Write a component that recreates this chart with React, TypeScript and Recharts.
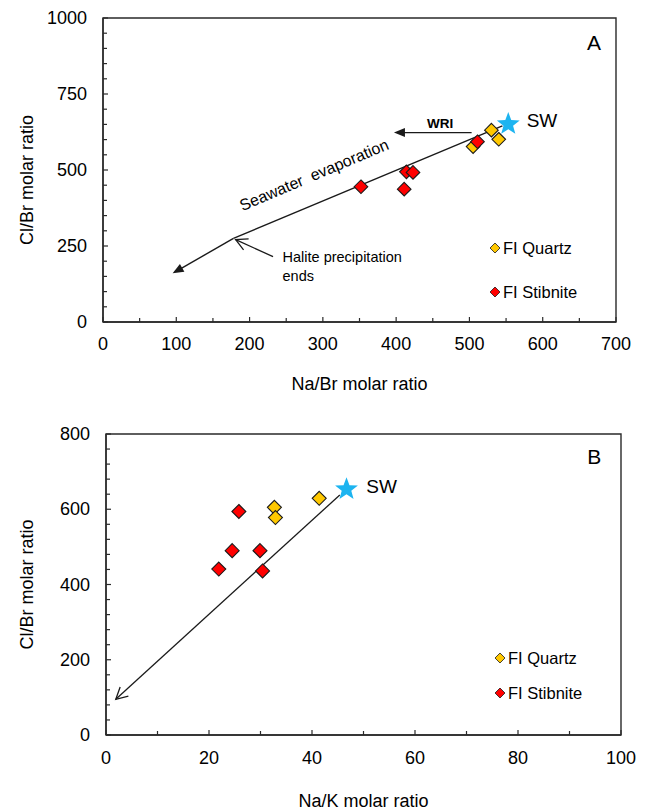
import React from 'react';
import {
  ScatterChart,
  Scatter,
  XAxis,
  YAxis,
  ReferenceLine,
  ReferenceArea,
  ReferenceDot,
  Legend,
} from 'recharts';

const FONT = '"Liberation Sans", Arial, Helvetica, sans-serif';
const AXIS = '#2a2a2a';
const QUARTZ = '#FFC800';
const STIB = '#FF0000';
const STAR = '#1DB4F0';

// ---------- Panel A: Cl/Br vs Na/Br ----------
const aQuartzNaBr = [530, 540, 505];
const aQuartzClBr = [631, 601, 577];
const aStibNaBr = [511, 414, 423, 352, 411];
const aStibClBr = [593, 494, 492, 445, 437];
const aSwNaBr = [553];
const aSwClBr = [651];

const aXMajor = [0, 100, 200, 300, 400, 500, 600, 700];
const aXMinor = [50, 150, 250, 350, 450, 550, 650];
const aYMajor = [0, 250, 500, 750, 1000];
const aYMinor = [50, 100, 150, 200, 300, 350, 400, 450, 550, 600, 650, 700, 800, 850, 900, 950];

const aEvapLine = [{ x: 545, y: 645 }, { x: 178, y: 275 }];
const aEvapArrow = [{ x: 178, y: 275 }, { x: 95, y: 160 }];
const aWriArrow = [{ x: 503, y: 623 }, { x: 397, y: 623 }];
const aHaliteArrow = [{ x: 232, y: 215 }, { x: 181, y: 271 }];

// ---------- Panel B: Cl/Br vs Na/K ----------
const bQuartzNaK = [32.7, 32.9, 41.4];
const bQuartzClBr = [605, 578, 629];
const bStibNaK = [25.8, 24.5, 29.9, 21.9, 30.4];
const bStibClBr = [594, 490, 490, 441, 436];
const bSwNaK = [46.7];
const bSwClBr = [653];

const bXMajor = [0, 20, 40, 60, 80, 100];
const bXMinor = [10, 30, 50, 70, 90];
const bYMajor = [0, 200, 400, 600, 800];
const bYMinor = [40, 80, 120, 160, 240, 280, 320, 360, 440, 480, 520, 560, 640, 680, 720, 760];

const bEvapArrow = [{ x: 45.4, y: 638 }, { x: 1.9, y: 95 }];

const legendNames = ['FI Quartz', 'FI Stibnite'];

const toPts = (xs: number[], ys: number[]) => xs.map((x, i) => ({ x, y: ys[i] }));
const sortNum = (a: number[], b: number[]) => [...a, ...b].sort((p, q) => p - q);

const makeXTick = (majors: number[], dy: number) => (props: any) => {
  const { x, y, payload } = props;
  const isMajor = majors.includes(payload.value);
  return (
    <g>
      <line x1={x} y1={y} x2={x} y2={y - (isMajor ? 5 : 4)} stroke={AXIS} strokeWidth={1.2} />
      {isMajor && (
        <text x={x} y={y + dy} textAnchor="middle" dominantBaseline="central" fontSize={18} fontFamily={FONT} fill="#000">
          {payload.value}
        </text>
      )}
    </g>
  );
};

const makeYTick = (majors: number[], dx: number) => (props: any) => {
  const { x, y, payload } = props;
  const isMajor = majors.includes(payload.value);
  return (
    <g>
      <line x1={x} y1={y} x2={x + (isMajor ? 5 : 4)} y2={y} stroke={AXIS} strokeWidth={1.2} />
      {isMajor && (
        <text x={x - dx} y={y} textAnchor="end" dominantBaseline="central" fontSize={18} fontFamily={FONT} fill="#000">
          {payload.value}
        </text>
      )}
    </g>
  );
};

const diamond = (fill: string, r: number) => (props: any) => {
  const { cx, cy } = props;
  if (cx == null || cy == null) return <g />;
  return (
    <polygon
      points={`${cx},${cy - r} ${cx + r},${cy} ${cx},${cy + r} ${cx - r},${cy}`}
      fill={fill}
      stroke="#1a1a1a"
      strokeWidth={1.1}
    />
  );
};

const star = (R: number) => (props: any) => {
  const { cx, cy } = props;
  if (cx == null || cy == null) return <g />;
  const pts: string[] = [];
  for (let i = 0; i < 10; i++) {
    const rad = i % 2 === 0 ? R : R * 0.42;
    const ang = -Math.PI / 2 + (i * Math.PI) / 5;
    pts.push(`${cx + rad * Math.cos(ang)},${cy + rad * Math.sin(ang)}`);
  }
  return <polygon points={pts.join(' ')} fill={STAR} stroke="none" />;
};

const arrowLine = (kind: 'none' | 'filled' | 'open') => (props: any) => {
  const { x1, y1, x2, y2 } = props;
  if ([x1, y1, x2, y2].some((v) => v == null || Number.isNaN(v))) return <g />;
  const dx = x2 - x1;
  const dy = y2 - y1;
  const len = Math.sqrt(dx * dx + dy * dy) || 1;
  const ux = dx / len;
  const uy = dy / len;
  const L = 11;
  const W = 4.5;
  if (kind === 'filled') {
    const bx = x2 - ux * L;
    const by = y2 - uy * L;
    return (
      <g>
        <line x1={x1} y1={y1} x2={bx + ux * 2} y2={by + uy * 2} stroke="#1a1a1a" strokeWidth={1.4} />
        <polygon
          points={`${x2},${y2} ${bx - uy * W},${by + ux * W} ${bx + uy * W},${by - ux * W}`}
          fill="#1a1a1a"
        />
      </g>
    );
  }
  if (kind === 'open') {
    const a = (28 * Math.PI) / 180;
    const c = Math.cos(a);
    const s = Math.sin(a);
    const r1x = -(ux * c - uy * s);
    const r1y = -(ux * s + uy * c);
    const r2x = -(ux * c + uy * s);
    const r2y = -(-ux * s + uy * c);
    return (
      <g>
        <line x1={x1} y1={y1} x2={x2} y2={y2} stroke="#1a1a1a" strokeWidth={1.3} />
        <polyline
          points={`${x2 + r1x * 13},${y2 + r1y * 13} ${x2},${y2} ${x2 + r2x * 13},${y2 + r2y * 13}`}
          fill="none"
          stroke="#1a1a1a"
          strokeWidth={1.3}
        />
      </g>
    );
  }
  return <line x1={x1} y1={y1} x2={x2} y2={y2} stroke="#1a1a1a" strokeWidth={1.4} />;
};

const textDot = (
  text: string,
  opts: { size: number; anchor?: string; weight?: string; rotate?: number }
) => (props: any) => {
  const { cx, cy } = props;
  if (cx == null || cy == null) return <g />;
  return (
    <text
      x={cx}
      y={cy}
      textAnchor={opts.anchor || 'middle'}
      dominantBaseline="central"
      fontSize={opts.size}
      fontWeight={opts.weight || 'normal'}
      fontFamily={FONT}
      fill="#000"
      style={{ whiteSpace: 'pre' }}
      transform={opts.rotate ? `rotate(${opts.rotate} ${cx} ${cy})` : undefined}
    >
      {text}
    </text>
  );
};

const xTitle = (text: string, dy: number) => (props: any) => {
  const vb = props.viewBox || {};
  return (
    <text
      x={vb.x + vb.width / 2}
      y={vb.y + dy}
      textAnchor="middle"
      dominantBaseline="central"
      fontSize={18}
      fontFamily={FONT}
      fill="#000"
    >
      {text}
    </text>
  );
};

const yTitle = (text: string, dxFromPlot: number, dyFromCenter: number) => (props: any) => {
  const vb = props.viewBox || {};
  const cx = vb.x + vb.width - dxFromPlot;
  const cy = vb.y + vb.height / 2 + dyFromCenter;
  return (
    <text
      x={cx}
      y={cy}
      textAnchor="middle"
      dominantBaseline="central"
      fontSize={18}
      fontFamily={FONT}
      fill="#000"
      transform={`rotate(-90 ${cx} ${cy})`}
    >
      {text}
    </text>
  );
};

const legendContent = (rowGap: number) => (props: any) => {
  const payload = (props.payload || []).filter((p: any) => legendNames.includes(p.value));
  const items = legendNames.map((n) => {
    const found = payload.find((p: any) => p.value === n);
    return { name: n, color: found ? found.color : n === 'FI Quartz' ? QUARTZ : STIB };
  });
  return (
    <div style={{ position: 'relative', width: 130, height: rowGap + 20 }}>
      {items.map((it, i) => (
        <div
          key={it.name}
          style={{
            position: 'absolute',
            left: 0,
            top: i * rowGap,
            height: 20,
            display: 'flex',
            alignItems: 'center',
            whiteSpace: 'nowrap',
          }}
        >
          <svg width={12} height={12} style={{ display: 'block' }}>
            <polygon points="6,1 11,6 6,11 1,6" fill={it.color} stroke="#1a1a1a" strokeWidth={0.8} />
          </svg>
          <span style={{ marginLeft: 2, fontFamily: FONT, fontSize: 16.5, color: '#000', lineHeight: '20px' }}>
            {it.name}
          </span>
        </div>
      ))}
    </div>
  );
};

const App = () => {
  const aQuartz = toPts(aQuartzNaBr, aQuartzClBr);
  const aStib = toPts(aStibNaBr, aStibClBr);
  const aSw = toPts(aSwNaBr, aSwClBr);
  const bQuartz = toPts(bQuartzNaK, bQuartzClBr);
  const bStib = toPts(bStibNaK, bStibClBr);
  const bSw = toPts(bSwNaK, bSwClBr);

  return (
    <div style={{ position: 'absolute', left: 0, top: 0, width: 646, height: 812, background: '#fff' }}>
      {/* Panel A */}
      <div style={{ position: 'absolute', left: 0, top: 0 }}>
        <ScatterChart width={646} height={400} margin={{ top: 18, right: 30, bottom: 38, left: 43 }}>
          <XAxis
            type="number"
            dataKey="x"
            domain={[0, 700]}
            ticks={sortNum(aXMajor, aXMinor)}
            interval={0}
            allowDataOverflow
            height={40}
            tickSize={0}
            tickMargin={0}
            tickLine={false}
            axisLine={{ stroke: AXIS, strokeWidth: 1.4 }}
            tick={makeXTick(aXMajor, 22)}
            label={{ value: 'Na/Br molar ratio', content: xTitle('Na/Br molar ratio', 62) }}
          />
          <YAxis
            type="number"
            dataKey="y"
            domain={[0, 1000]}
            ticks={sortNum(aYMajor, aYMinor)}
            interval={0}
            allowDataOverflow
            width={60}
            tickSize={0}
            tickMargin={0}
            tickLine={false}
            axisLine={{ stroke: AXIS, strokeWidth: 1.4 }}
            tick={makeYTick(aYMajor, 16)}
            label={{ value: 'Cl/Br molar ratio', content: yTitle('Cl/Br molar ratio', 76, 10) }}
          />
          <ReferenceArea x1={0} x2={700} y1={0} y2={1000} fill="none" stroke={AXIS} strokeWidth={1.4} />
          <ReferenceLine segment={aEvapLine} shape={arrowLine('none')} />
          <ReferenceLine segment={aEvapArrow} shape={arrowLine('filled')} />
          <ReferenceLine segment={aWriArrow} shape={arrowLine('filled')} />
          <ReferenceLine segment={aHaliteArrow} shape={arrowLine('open')} />
          <Scatter name="FI Quartz" data={aQuartz} fill={QUARTZ} shape={diamond(QUARTZ, 6.8)} isAnimationActive={false} />
          <Scatter name="FI Stibnite" data={aStib} fill={STIB} shape={diamond(STIB, 6.8)} isAnimationActive={false} />
          <Scatter name="SW" data={aSw} fill={STAR} shape={star(12)} isAnimationActive={false} legendType="none" />
          <ReferenceDot x={670} y={918} r={0} shape={textDot('A', { size: 21 })} />
          <ReferenceDot x={599} y={664} r={0} shape={textDot('SW', { size: 19 })} />
          <ReferenceDot x={460} y={654} r={0} shape={textDot('WRI', { size: 13.5, weight: 'bold' })} />
          <ReferenceDot x={288} y={484} r={0} shape={textDot('Seawater\u00A0 evaporation', { size: 16, rotate: -23 })} />
          <ReferenceDot x={245} y={215} r={0} shape={textDot('Halite precipitation', { size: 14.5, anchor: 'start' })} />
          <ReferenceDot x={245} y={152} r={0} shape={textDot('ends', { size: 14.5, anchor: 'start' })} />
          <Legend
            layout="vertical"
            align="center"
            verticalAlign="middle"
            wrapperStyle={{ left: 489, top: 238, width: 130, height: 70 }}
            content={legendContent(44)}
          />
        </ScatterChart>
      </div>

      {/* Panel B */}
      <div style={{ position: 'absolute', left: 0, top: 400 }}>
        <ScatterChart width={646} height={412} margin={{ top: 34, right: 25, bottom: 37, left: 46 }}>
          <XAxis
            type="number"
            dataKey="x"
            domain={[0, 100]}
            ticks={sortNum(bXMajor, bXMinor)}
            interval={0}
            allowDataOverflow
            height={40}
            tickSize={0}
            tickMargin={0}
            tickLine={false}
            axisLine={{ stroke: AXIS, strokeWidth: 1.4 }}
            tick={makeXTick(bXMajor, 23)}
            label={{ value: 'Na/K molar ratio', content: xTitle('Na/K molar ratio', 66) }}
          />
          <YAxis
            type="number"
            dataKey="y"
            domain={[0, 800]}
            ticks={sortNum(bYMajor, bYMinor)}
            interval={0}
            allowDataOverflow
            width={60}
            tickSize={0}
            tickMargin={0}
            tickLine={false}
            axisLine={{ stroke: AXIS, strokeWidth: 1.4 }}
            tick={makeYTick(bYMajor, 16)}
            label={{ value: 'Cl/Br molar ratio', content: yTitle('Cl/Br molar ratio', 79, 0) }}
          />
          <ReferenceArea x1={0} x2={100} y1={0} y2={800} fill="none" stroke={AXIS} strokeWidth={1.4} />
          <ReferenceLine segment={bEvapArrow} shape={arrowLine('open')} />
          <Scatter name="FI Quartz" data={bQuartz} fill={QUARTZ} shape={diamond(QUARTZ, 7)} isAnimationActive={false} />
          <Scatter name="FI Stibnite" data={bStib} fill={STIB} shape={diamond(STIB, 7)} isAnimationActive={false} />
          <Scatter name="SW" data={bSw} fill={STAR} shape={star(12)} isAnimationActive={false} legendType="none" />
          <ReferenceDot x={94.8} y={739} r={0} shape={textDot('B', { size: 21 })} />
          <ReferenceDot x={53.5} y={660} r={0} shape={textDot('SW', { size: 19 })} />
          <Legend
            layout="vertical"
            align="center"
            verticalAlign="middle"
            wrapperStyle={{ left: 494, top: 248, width: 130, height: 60 }}
            content={legendContent(35)}
          />
        </ScatterChart>
      </div>
    </div>
  );
};

export default App;
